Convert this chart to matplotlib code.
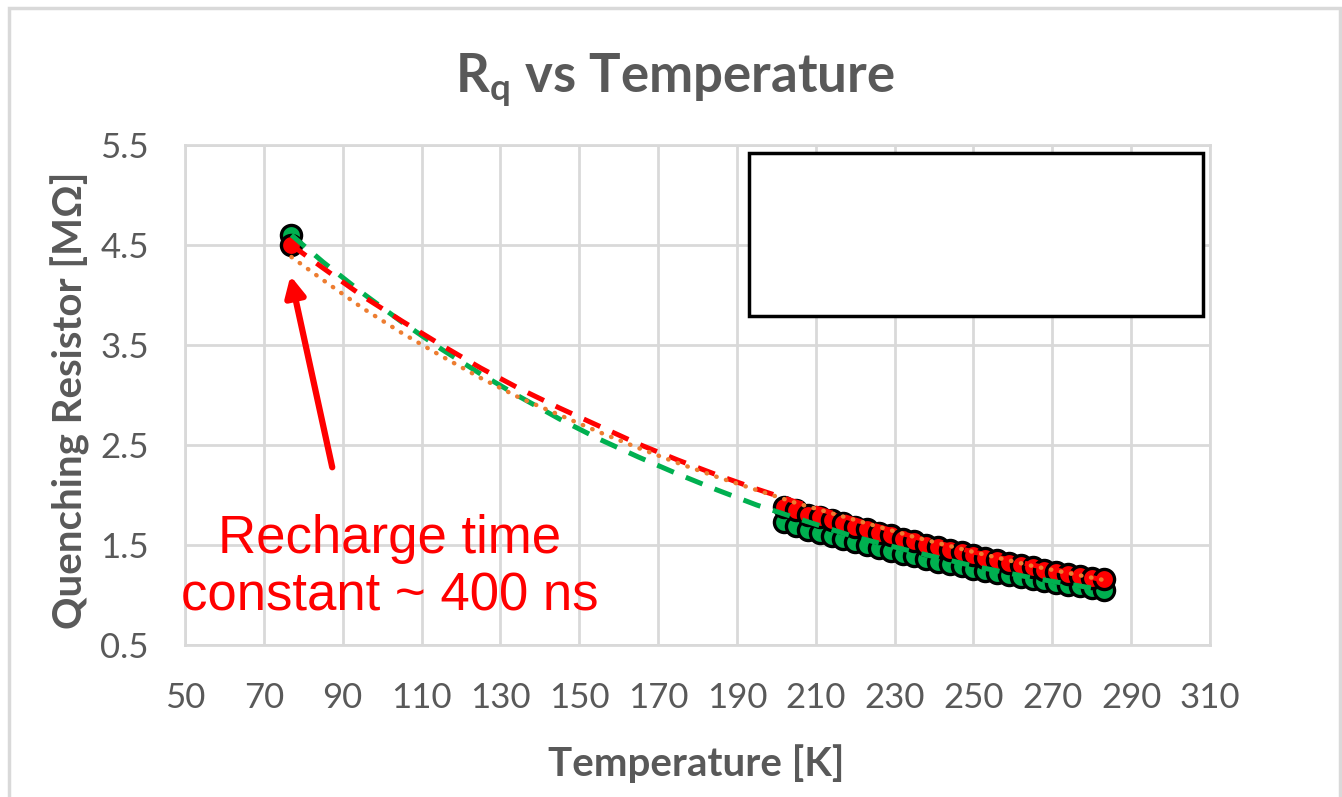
import matplotlib
matplotlib.use('Agg')
import matplotlib.pyplot as plt
from matplotlib.patches import Rectangle

# data
low_T = [77]
low_red = [4.50]
low_green = [4.60]

dense_T = [202, 205, 208, 211, 214, 217, 220, 223, 226, 229, 232, 235, 238, 241,
           244, 247, 250, 253, 256, 259, 262, 265, 268, 271, 274, 277, 280, 283]
dense_red = [1.88, 1.85, 1.80, 1.78, 1.75, 1.72, 1.68, 1.66, 1.62, 1.60, 1.56, 1.54, 1.50, 1.48,
             1.45, 1.43, 1.40, 1.37, 1.35, 1.32, 1.30, 1.28, 1.25, 1.23, 1.21, 1.19, 1.17, 1.16]
dense_green = [1.73, 1.69, 1.65, 1.62, 1.59, 1.56, 1.53, 1.50, 1.47, 1.44, 1.41, 1.39, 1.36, 1.33,
               1.31, 1.29, 1.26, 1.24, 1.22, 1.20, 1.18, 1.16, 1.14, 1.12, 1.10, 1.09, 1.07, 1.05]

# trendlines
trend_T = [77, 85, 95, 105, 115, 125, 135, 145, 155, 165, 175, 185, 195, 205, 220, 235, 250, 265, 283]
trend_red = [4.50, 4.27, 3.99, 3.74, 3.50, 3.27, 3.06, 2.87, 2.69, 2.51, 2.35, 2.20, 2.06, 1.93,
             1.75, 1.58, 1.43, 1.30, 1.15]
trend_green = [4.60, 4.33, 4.02, 3.73, 3.46, 3.21, 2.98, 2.76, 2.56, 2.38, 2.21, 2.05, 1.90, 1.77,
               1.58, 1.43, 1.29, 1.17, 1.05]
trend_orange = [4.38, 4.15, 3.87, 3.62, 3.39, 3.17, 2.97, 2.80, 2.63, 2.47, 2.32, 2.18, 2.05, 1.92,
                1.75, 1.58, 1.43, 1.29, 1.15]

x_ticks = [50, 70, 90, 110, 130, 150, 170, 190, 210, 230, 250, 270, 290, 310]
y_ticks = [0.5, 1.5, 2.5, 3.5, 4.5, 5.5]

GRAY = '#595959'
GRID = '#d9d9d9'
GREEN = '#00b050'
RED = '#ff0000'
ORANGE = '#ed7d31'


def main():
	plt.rcParams['font.family'] = ['Lato', 'DejaVu Sans']
	plt.rcParams['mathtext.fontset'] = 'custom'
	plt.rcParams['mathtext.rm'] = 'Lato:bold'

	fig = plt.figure(figsize=(13.42, 7.97), dpi=100)
	ax = fig.add_axes([185 / 1342, 1 - 645 / 797, 1025 / 1342, 500 / 797])

	# chart area border
	fig.patches.append(Rectangle((9 / 1342, -0.1), 1331 / 1342, 1.1 - 8 / 797, transform=fig.transFigure,
	                             fill=False, ec=GRID, lw=2.5))

	ax.set_xlim(50, 310)
	ax.set_ylim(0.5, 5.5)
	ax.set_xticks(x_ticks)
	ax.set_yticks(y_ticks)
	ax.set_yticklabels([f'{v:.1f}' for v in y_ticks])
	ax.grid(True, color=GRID, lw=2)
	ax.set_axisbelow(True)
	for s in ax.spines.values():
		s.set_color(GRID)
		s.set_linewidth(2)
	ax.tick_params(length=0, labelsize=25, labelcolor=GRAY)
	ax.tick_params(axis='x', pad=27)
	ax.tick_params(axis='y', pad=26)

	mk = dict(ls='none', marker='o', ms=14.5, mec='black', mew=2.4)
	ax.plot(low_T + dense_T, low_green + dense_green, mfc=GREEN, zorder=3, **mk)
	ax.plot(low_T + dense_T, low_red + dense_red, mfc=RED, zorder=4, **mk)

	ax.plot(trend_T, trend_green, color=GREEN, lw=3.6, ls=(0, (3.6, 2.6)), zorder=5)
	ax.plot(trend_T, trend_red, color=RED, lw=3.6, ls=(0, (3.6, 2.6)), zorder=6)
	ax.plot(trend_T, trend_orange, color=ORANGE, lw=3.2, ls=(0, (0.1, 2.2)),
	        dash_capstyle='round', zorder=7)

	# empty legend box
	ax.add_patch(Rectangle((0.5502, 0.658), 0.443, 0.326, transform=ax.transAxes,
	                       fc='white', ec='black', lw=2.5, zorder=8))

	fig.text(675 / 1342, 1 - 93 / 797, r'$\mathrm{R_q}$ vs Temperature', ha='center',
	         va='baseline', fontsize=38, fontweight='bold', color=GRAY)
	fig.text(696 / 1342, 1 - 776 / 797, 'Temperature [K]', ha='center', va='baseline',
	         fontsize=29, fontweight='bold', color=GRAY)
	fig.text(70 / 1342, 1 - 400 / 797, 'Quenching Resistor [MΩ]', ha='center', va='center',
	         rotation=90, fontsize=29, fontweight='bold', color=GRAY)

	# annotation
	ax.annotate('', xy=(76.6, 4.22), xytext=(87.5, 2.25),
	            arrowprops=dict(arrowstyle='-|>,head_length=1.2,head_width=0.6', color=RED, lw=4.5),
	            zorder=9)
	ax.text(102, 1.27, 'Recharge time\nconstant ~ 400 ns', ha='center', va='center',
	        fontsize=38, color=RED, family=['Liberation Sans', 'DejaVu Sans'], zorder=9)

	fig.savefig('out.png', dpi=100)


if __name__ == '__main__':
	main()
